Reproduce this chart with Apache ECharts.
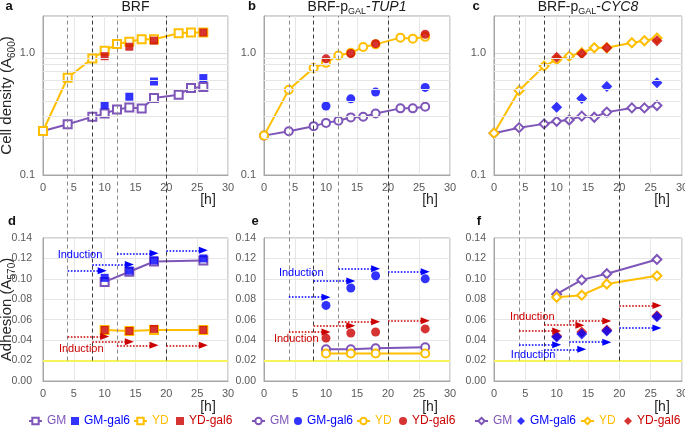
<!DOCTYPE html>
<html><head><meta charset="utf-8">
<script src="https://cdn.jsdelivr.net/npm/echarts@6/dist/echarts.min.js"></script>
<style>html,body{margin:0;padding:0;background:#fff}#c{width:685px;height:429px}</style>
</head><body><div id="c"></div>
<script>
// ---------- data ----------
const hours = [0, 4, 8, 10, 12, 14, 16, 18, 22, 24, 26];
const galHours = [10, 14, 18, 26];
const inductionTimes = [4, 8, 12, 20];
const baselineAdhesion = 0.02;
const densityMinorGrid = [0.2, 0.3, 0.4, 0.5, 0.6, 0.7, 0.8, 0.9];
const seriesNames = ['GM', 'GM-gal6', 'YD', 'YD-gal6'];
const inductionText = 'Induction';

// a: BRF cell density
const aGM = [0.229, 0.26, 0.299, 0.318, 0.344, 0.357, 0.35, 0.426, 0.454, 0.516, 0.526];
const aYD = [0.229, 0.625, 0.898, 1.039, 1.18, 1.233, 1.29, 1.29, 1.446, 1.465, 1.465];
const aGMgal6 = [0.373, 0.437, 0.582, 0.621];
const aYDgal6 = [0.938, 1.121, 1.257, 1.465];
// b: BRF-pGAL-TUP1 cell density
const bGM = [0.21, 0.228, 0.251, 0.267, 0.278, 0.296, 0.30, 0.319, 0.351, 0.351, 0.362];
const bYD = [0.21, 0.498, 0.751, 0.827, 0.95, 1.0, 1.114, 1.172, 1.33, 1.305, 1.35];
const bGMgal6 = [0.367, 0.42, 0.477, 0.521];
const bYDgal6 = [0.892, 0.987, 1.187, 1.418];
// c: BRF-pGAL-CYC8 cell density
const cGM = [0.22, 0.244, 0.262, 0.275, 0.282, 0.303, 0.297, 0.327, 0.354, 0.354, 0.37];
const cYD = [0.22, 0.491, 0.778, 0.877, 0.939, 1.0, 1.099, 1.099, 1.208, 1.254, 1.32];
const cGMgal6 = [0.359, 0.422, 0.53, 0.568];
const cYDgal6 = [0.921, 0.981, 1.099, 1.254];
// d: BRF adhesion
const dGM = [0.097, 0.107, 0.117, 0.118];
const dYD = [0.050, 0.049, 0.050, 0.050];
const dGMgal6 = [0.101, 0.108, 0.118, 0.120];
const dYDgal6 = [0.050, 0.049, 0.051, 0.050];
const dBlueArrows = [[4, 9.6, 0.108], [8, 14, 0.114], [12, 18, 0.125], [20, 26, 0.128]];
const dRedArrows = [[4, 10, 0.0435], [8, 14, 0.0385], [12, 18, 0.035], [20, 26, 0.035]];
const dBlueLabel = [6.0, 0.1235];
const dRedLabel = [6.2, 0.031];
// e: BRF-pGAL-TUP1 adhesion
const eGM = [0.031, 0.031, 0.032, 0.033];
const eYD = [0.027, 0.027, 0.027, 0.027];
const eGMgal6 = [0.074, 0.091, 0.103, 0.100];
const eYDgal6 = [0.042, 0.047, 0.048, 0.051];
const eBlueArrows = [[4, 10, 0.082], [8, 14, 0.098], [12, 18, 0.110], [20, 26, 0.107]];
const eRedArrows = [[4, 10, 0.048], [8, 14, 0.054], [12, 18, 0.058], [20, 26, 0.059]];
const eBlueLabel = [6.0, 0.106];
const eRedLabel = [5.2, 0.0407];
// f: BRF-pGAL-CYC8 adhesion
const fGM = [0.085, 0.099, 0.105, 0.119];
const fYD = [0.082, 0.084, 0.095, 0.103];
const fGMgal6 = [0.043, 0.046, 0.049, 0.063];
const fYDgal6 = [0.044, 0.048, 0.050, 0.064];
const fBlueArrows = [[4, 10, 0.0355], [8, 14, 0.031], [12, 18, 0.038], [20, 26, 0.052]];
const fRedArrows = [[4, 10, 0.049], [8, 13.7, 0.0546], [12, 18, 0.0588], [20, 26, 0.074]];
const fBlueLabel = [6.25, 0.025];
const fRedLabel = [6.1, 0.0628];

// ---------- styling / layout ----------
const FONT = '"Liberation Sans", Arial, sans-serif';
const COL = { gm: '#7e55b8', gmg: '#0000ff', yd: '#ffbf00', ydg: '#cc0000' };
const COLS = [{ left: 43, width: 185 }, { left: 264, width: 186 }, { left: 494, width: 188 }];
const TOPROW = { top: 16, height: 159 };
const BOTROW = { top: 238, height: 143 };
const ADH_MAX = 0.14;
const axisGray = '#a6a6a6', gridGray = '#e6e6e6', labelGray = '#595959';
const SYM = ['Rect', 'Circle', 'Diamond'];
const SIZE_EMPTY = [8, 8, 9], SIZE_FILL = [8, 9, 11];
const dashColors = ['#8a8a8a', '#3a3a3a', '#8a8a8a', '#3a3a3a'];

const topPanels = [
  { gm: aGM, yd: aYD, gmg: aGMgal6, ydg: aYDgal6 },
  { gm: bGM, yd: bYD, gmg: bGMgal6, ydg: bYDgal6 },
  { gm: cGM, yd: cYD, gmg: cGMgal6, ydg: cYDgal6 }
];
const botPanels = [
  { gm: dGM, yd: dYD, gmg: dGMgal6, ydg: dYDgal6, blue: dBlueArrows, red: dRedArrows, bl: dBlueLabel, rl: dRedLabel },
  { gm: eGM, yd: eYD, gmg: eGMgal6, ydg: eYDgal6, blue: eBlueArrows, red: eRedArrows, bl: eBlueLabel, rl: eRedLabel },
  { gm: fGM, yd: fYD, gmg: fGMgal6, ydg: fYDgal6, blue: fBlueArrows, red: fRedArrows, bl: fBlueLabel, rl: fRedLabel }
];

const pair = (xs, ys) => xs.map((x, i) => [x, ys[i]]);
const grid = [], xAxis = [], yAxis = [], series = [], legend = [], graphic = [];

function xAx(gi, show) {
  return {
    type: 'value', gridIndex: gi, min: 0, max: 30, interval: 5, show: show,
    axisLine: { lineStyle: { color: axisGray } }, axisTick: { show: false },
    axisLabel: { color: labelGray, fontSize: 11, fontFamily: FONT, margin: 7 },
    splitLine: { show: true, lineStyle: { color: gridGray } }
  };
}

for (let i = 0; i < 3; i++) {
  grid[i] = { left: COLS[i].left, width: COLS[i].width, top: TOPROW.top, height: TOPROW.height, show: true, borderColor: axisGray, borderWidth: 1, containLabel: false, outerBoundsMode: 'none' };
  grid[3 + i] = { left: COLS[i].left, width: COLS[i].width, top: BOTROW.top, height: BOTROW.height, show: true, borderColor: axisGray, borderWidth: 1, containLabel: false, outerBoundsMode: 'none' };
  const ovBottom = BOTROW.top + BOTROW.height * (1 - baselineAdhesion / ADH_MAX);
  grid[6 + i] = { left: COLS[i].left, width: COLS[i].width, top: TOPROW.top, height: ovBottom - TOPROW.top, show: false, containLabel: false, outerBoundsMode: 'none' };

  xAxis[i] = xAx(i, true);
  xAxis[3 + i] = xAx(3 + i, true);
  xAxis[6 + i] = { type: 'value', gridIndex: 6 + i, min: 0, max: 30, show: false };

  yAxis[i] = {
    type: 'log', logBase: 10, gridIndex: i, min: 0.1, max: 2,
    axisLine: { show: true, lineStyle: { color: axisGray } }, axisTick: { show: false },
    axisLabel: { color: labelGray, fontSize: 11, fontFamily: FONT, showMaxLabel: false, formatter: v => v.toFixed(1) },
    splitLine: { show: true, lineStyle: { color: '#d9d9d9' } }
  };
  yAxis[3 + i] = {
    type: 'value', gridIndex: 3 + i, min: 0, max: ADH_MAX, interval: 0.02,
    axisLine: { show: true, lineStyle: { color: axisGray } }, axisTick: { show: false },
    axisLabel: { color: labelGray, fontSize: 10.5, fontFamily: FONT, margin: i === 0 ? 11 : 8, formatter: v => v.toFixed(2) },
    splitLine: { show: true, lineStyle: { color: gridGray } }
  };
  yAxis[6 + i] = { type: 'value', gridIndex: 6 + i, min: 0, max: 1, show: false };
}
yAxis[0].name = 'Cell density (A{s|600})';
yAxis[3].name = 'Adhesion (A{s|570})';
[0, 3].forEach(k => {
  Object.assign(yAxis[k], {
    nameLocation: 'middle', nameGap: 26, nameRotate: 90, nameMoveOverlap: false,
    nameTextStyle: {
      fontFamily: FONT, fontSize: 15, color: '#262626', lineHeight: 20,
      rich: { s: { fontSize: 10, fontFamily: FONT, color: '#262626', lineHeight: 10, verticalAlign: 'bottom' } }
    }
  });
});

function panelSeries(p, gi, xs, col) {
  const tag = '#' + col;
  const base = { xAxisIndex: gi, yAxisIndex: gi, z: 3 };
  return [
    Object.assign({ name: 'GM' + tag, type: 'line', data: pair(xs, p.gm), symbol: 'empty' + SYM[col], symbolSize: SIZE_EMPTY[col],
      color: COL.gm, lineStyle: { width: 2 }, itemStyle: { borderWidth: 1.5 } }, base),
    Object.assign({ name: 'YD' + tag, type: 'line', data: pair(xs, p.yd), symbol: 'empty' + SYM[col], symbolSize: SIZE_EMPTY[col],
      color: COL.yd, lineStyle: { width: 2 }, itemStyle: { borderWidth: 1.5 } }, base),
    Object.assign({ name: 'YD-gal6' + tag, type: 'scatter', data: pair(galHours, p.ydg), symbol: SYM[col].toLowerCase(), symbolSize: SIZE_FILL[col],
      color: COL.ydg }, base),
    Object.assign({ name: 'GM-gal6' + tag, type: 'scatter', data: pair(galHours, p.gmg), symbol: SYM[col].toLowerCase(), symbolSize: SIZE_FILL[col],
      color: COL.gmg }, base)
  ];
}

function arrowSeries(gi, arrows, label, color) {
  return {
    type: 'line', xAxisIndex: gi, yAxisIndex: gi, data: [], color: color, z: 4, silent: true,
    markLine: {
      silent: true, symbol: ['none', 'triangle'], symbolSize: [7, 9], label: { show: false },
      lineStyle: { type: 'dotted', width: 1.6, color: color }, itemStyle: { color: color },
      data: arrows.map(a => [{ coord: [a[0], a[2]] }, { coord: [a[1], a[2]] }])
    },
    markPoint: {
      silent: true, symbol: 'circle', symbolSize: 0,
      label: { show: true, position: 'inside', formatter: inductionText, color: color, fontSize: 11, fontFamily: FONT },
      data: [{ coord: label }]
    }
  };
}

for (let i = 0; i < 3; i++) {
  series.push({
    type: 'line', xAxisIndex: i, yAxisIndex: i, data: [], z: 1, silent: true,
    markLine: { silent: true, symbol: 'none', label: { show: false }, lineStyle: { type: 'solid', width: 1, color: '#e6e6e6' },
      data: densityMinorGrid.map(v => ({ yAxis: v })) }
  });
  series.push({
    type: 'line', xAxisIndex: 3 + i, yAxisIndex: 3 + i, data: [], z: 2, silent: true,
    markLine: { silent: true, symbol: 'none', label: { show: false }, lineStyle: { type: 'solid', width: 2, color: '#f7f35a' },
      data: [{ yAxis: baselineAdhesion }] }
  });
  series.push({
    type: 'line', xAxisIndex: 6 + i, yAxisIndex: 6 + i, data: [], z: 2, silent: true,
    markLine: { silent: true, symbol: 'none', label: { show: false }, lineStyle: { type: [4, 3], width: 1 },
      data: inductionTimes.map((t, k) => ({ xAxis: t, lineStyle: { color: dashColors[k], type: [4, 3], width: 1 } })) }
  });
  panelSeries(topPanels[i], i, hours, i).forEach(s => series.push(s));
  panelSeries(botPanels[i], 3 + i, galHours, i).forEach(s => series.push(s));
  series.push(arrowSeries(3 + i, botPanels[i].blue, botPanels[i].bl, COL.gmg));
  series.push(arrowSeries(3 + i, botPanels[i].red, botPanels[i].rl, COL.ydg));
}

const legendLefts = [[28, 71, 133, 176], [251, 294, 356, 399], [474, 517, 580, 624]];
const legendColors = [COL.gm, COL.gmg, COL.yd, COL.ydg];
for (let i = 0; i < 3; i++) {
  seriesNames.forEach((n, k) => {
    legend.push({
      left: legendLefts[i][k], top: 415, padding: 0, itemGap: 0,
      itemWidth: (k % 2 === 0) ? 13 : 8, itemHeight: 8,
      data: [{ name: n + '#' + i, textStyle: { color: legendColors[k] } }],
      formatter: nm => nm.split('#')[0],
      textStyle: { fontSize: 12, fontFamily: FONT }
    });
  });
}

const titleRich = {
  m: { fontSize: 14, fontFamily: FONT, fill: '#1a1a1a', lineHeight: 18 },
  s: { fontSize: 9, fontFamily: FONT, fill: '#1a1a1a', lineHeight: 9, verticalAlign: 'bottom' },
  i: { fontSize: 14, fontFamily: FONT, fill: '#1a1a1a', fontStyle: 'italic', lineHeight: 18 }
};
const titles = ['{m|BRF}', '{m|BRF-p}{s|GAL}{m|-}{i|TUP1}', '{m|BRF-p}{s|GAL}{m|-}{i|CYC8}'];
const letters = [['a', 'd'], ['b', 'e'], ['c', 'f']];
const letterX = [9, 252, 476];
for (let i = 0; i < 3; i++) {
  const cx = COLS[i].left + COLS[i].width / 2;
  graphic.push({ type: 'text', x: cx, y: 7, style: { text: titles[i], rich: titleRich, align: 'center', verticalAlign: 'middle' } });
  graphic.push({ type: 'text', x: letterX[i], y: 6, style: { text: letters[i][0], font: 'bold 13px ' + FONT, fill: '#111', align: 'center', verticalAlign: 'middle' } });
  graphic.push({ type: 'text', x: letterX[i] + 3, y: 221, style: { text: letters[i][1], font: 'bold 13px ' + FONT, fill: '#111', align: 'center', verticalAlign: 'middle' } });
  const hx = COLS[i].left + COLS[i].width - 20;
  graphic.push({ type: 'text', x: hx, y: 200, style: { text: '[h]', font: '14px ' + FONT, fill: '#262626', align: 'center', verticalAlign: 'middle' } });
  graphic.push({ type: 'text', x: hx, y: 407, style: { text: '[h]', font: '14px ' + FONT, fill: '#262626', align: 'center', verticalAlign: 'middle' } });
}

const chart = echarts.init(document.getElementById('c'), null, { renderer: 'canvas' });
chart.setOption({
  animation: false,
  backgroundColor: '#fff',
  textStyle: { fontFamily: FONT },
  grid, xAxis, yAxis, series, legend, graphic
});
</script></body></html>
